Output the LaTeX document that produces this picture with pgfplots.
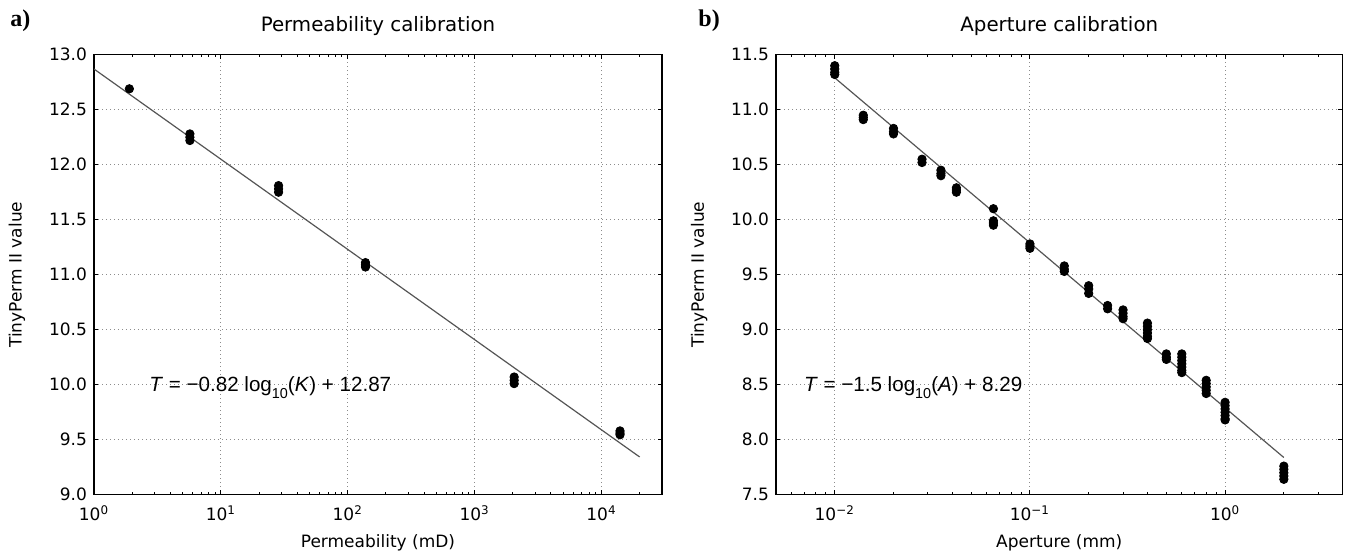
\documentclass[border=0pt]{standalone}
\usepackage{fontspec}
\setmainfont{DejaVu Sans}
\newfontfamily\eqfont{Liberation Sans}
\newfontfamily\panelfont{Liberation Serif}
\usepackage{pgfplots}
\usepackage{pgfplotstable}
\pgfplotsset{compat=1.18}

\definecolor{fitgray}{HTML}{555555}
\definecolor{gridgray}{HTML}{8C8C8C}

\newcommand{\sublog}{log\raisebox{-3.2pt}{\fontsize{7.2}{8}\selectfont 10}}

% permeability calibration: K (mD), TinyPerm value
\pgfplotstableread{
K T
1.9 12.69
5.7 12.28
5.7 12.25
5.7 12.22
28.5 11.81
28.5 11.78
28.5 11.75
138 11.11
138 11.09
138 11.07
2050 10.07
2050 10.04
2050 10.01
14000 9.58
14000 9.56
14000 9.545
}\permdata

% aperture calibration: A (mm), TinyPerm value
\pgfplotstableread{
A T
0.01 11.40
0.01 11.37
0.01 11.34
0.01 11.32
0.014 10.95
0.014 10.93
0.014 10.91
0.02 10.83
0.02 10.80
0.02 10.78
0.028 10.55
0.028 10.52
0.035 10.45
0.035 10.42
0.035 10.40
0.042 10.29
0.042 10.27
0.042 10.25
0.065 10.10
0.065 9.99
0.065 9.97
0.065 9.95
0.1 9.78
0.1 9.76
0.1 9.74
0.15 9.58
0.15 9.55
0.15 9.53
0.2 9.40
0.2 9.37
0.2 9.33
0.25 9.22
0.25 9.19
0.3 9.18
0.3 9.15
0.3 9.12
0.3 9.10
0.4 9.06
0.4 9.03
0.4 9.00
0.4 8.97
0.4 8.94
0.4 8.92
0.5 8.78
0.5 8.75
0.5 8.73
0.6 8.78
0.6 8.75
0.6 8.72
0.6 8.69
0.6 8.66
0.6 8.63
0.6 8.61
0.8 8.54
0.8 8.51
0.8 8.48
0.8 8.45
0.8 8.42
1.0 8.34
1.0 8.31
1.0 8.28
1.0 8.25
1.0 8.22
1.0 8.19
1.0 8.18
2.0 7.76
2.0 7.73
2.0 7.70
2.0 7.67
2.0 7.64
}\aperdata

\pgfplotsset{
  calib/.style={
    scale only axis, height=220pt,
    axis line style={black, line width=0.6pt},
    tick align=inside, xtick pos=both, ytick pos=both,
    major tick length=2.2pt, minor tick length=1.3pt,
    every tick/.style={black, line width=0.5pt},
    grid=major,
    grid style={gridgray, line width=0.5pt, dash pattern=on 0.6pt off 1.4pt},
    tick label style={font=\fontsize{8.5}{10}\selectfont},
    label style={font=\fontsize{8.5}{10}\selectfont},
    title style={font=\fontsize{9.9}{12}\selectfont,
      at={(axis description cs:0.5,1.026)}, anchor=base},
    ylabel style={at={(axis description cs:-0.1357,0.5)}, anchor=center},
    yticklabel style={/pgf/number format/fixed,
      /pgf/number format/fixed zerofill,
      /pgf/number format/precision=1,
      /pgf/number format/assume math mode=true},
    xticklabel shift=2pt,
    ylabel={TinyPerm II value},
  },
  pts/.style={only marks, mark=*, mark size=2.1pt, black, mark options={fill=black}},
  fit/.style={fitgray, line width=0.6pt, no marks},
}

\begin{document}
\begin{tikzpicture}
\path[use as bounding box] (0,0) rectangle (673.5pt,276.5pt);

\node[anchor=base west, inner sep=0] at (5pt,263pt)
  {\panelfont\bfseries\fontsize{12}{14}\selectfont a)};
\node[anchor=base west, inner sep=0] at (349pt,263pt)
  {\panelfont\bfseries\fontsize{12}{14}\selectfont b)};

\begin{semilogxaxis}[calib,
  at={(47pt,29.15pt)}, anchor=south west, width=284pt,
  xmin=1, xmax=30000, ymin=9, ymax=13,
  xtick={1,10,100,1000,10000},
  xticklabels={10\textsuperscript{0},10\textsuperscript{1},10\textsuperscript{2},10\textsuperscript{3},10\textsuperscript{4}},
  minor xtick={2,3,4,5,6,7,8,9,20,30,40,50,60,70,80,90,200,300,400,500,600,700,800,900,2000,3000,4000,5000,6000,7000,8000,9000,20000,30000},
  ytick={9,9.5,...,13},
  title={Permeability calibration},
  xlabel={Permeability (mD)},
]
\addplot[fit] coordinates {(1,12.87) (20000,9.343)};
\addplot[pts] table[x=K, y=T] {\permdata};
\node[anchor=base west, inner sep=0] at (axis cs:2.71,9.936)
  {\eqfont\fontsize{10.3}{12}\selectfont\textit{T} = −0.82 \sublog(\textit{K}) + 12.87};
\end{semilogxaxis}

\begin{semilogxaxis}[calib,
  at={(388pt,29.15pt)}, anchor=south west, width=283.3pt,
  xmin=0.005, xmax=4, ymin=7.5, ymax=11.5,
  xtick={0.01,0.1,1},
  xticklabels={10\textsuperscript{−2},10\textsuperscript{−1},10\textsuperscript{0}},
  minor xtick={0.006,0.007,0.008,0.009,0.02,0.03,0.04,0.05,0.06,0.07,0.08,0.09,0.2,0.3,0.4,0.5,0.6,0.7,0.8,0.9,2,3,4},
  ytick={7.5,8,...,11.5},
  title={Aperture calibration},
  xlabel={Aperture (mm)},
]
\addplot[fit] coordinates {(0.01,11.29) (2,7.838)};
\addplot[pts] table[x=A, y=T] {\aperdata};
\node[anchor=base west, inner sep=0] at (axis cs:0.00693,8.436)
  {\eqfont\fontsize{10.3}{12}\selectfont\textit{T} = −1.5 \sublog(\textit{A}) + 8.29};
\end{semilogxaxis}
\end{tikzpicture}
\end{document}
